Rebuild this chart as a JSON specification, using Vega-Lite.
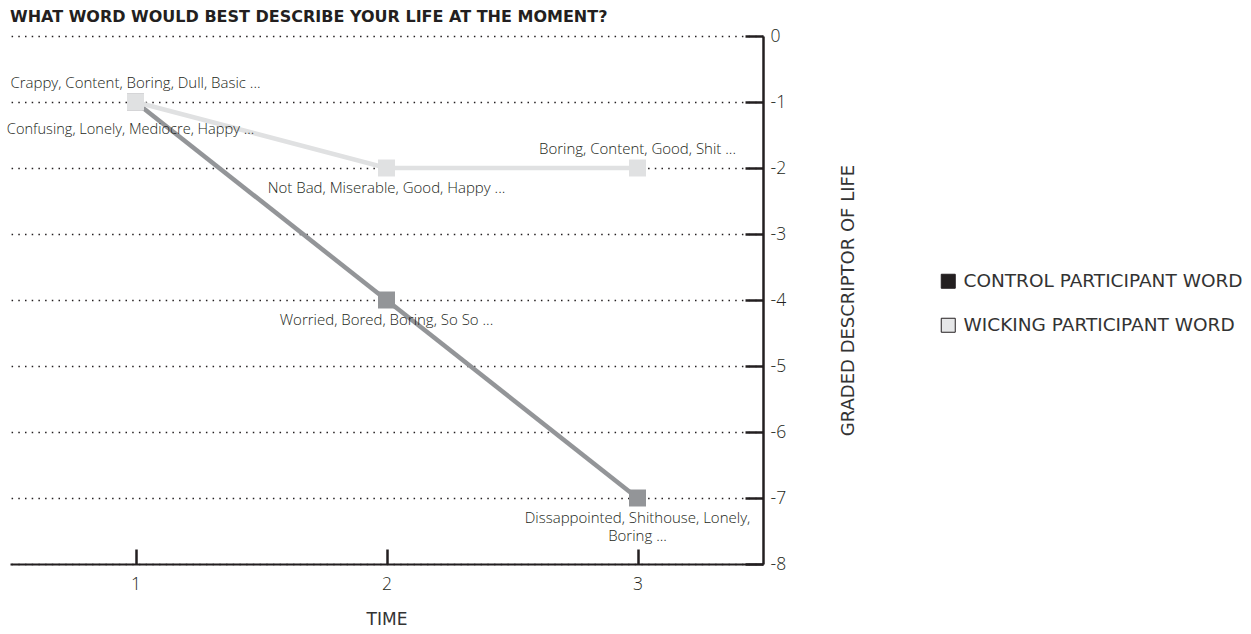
{
  "$schema": "https://vega.github.io/schema/vega-lite/v6.json",
  "autosize": "none",
  "width": 753,
  "height": 528,
  "padding": {"left": 10, "top": 36, "right": 488, "bottom": 70},
  "background": "white",
  "config": {
    "font": "Open Sans",
    "view": {"stroke": null}
  },
  "title": {
    "text": "WHAT WORD WOULD BEST DESCRIBE YOUR LIFE AT THE MOMENT?",
    "anchor": "start",
    "frame": "group",
    "fontSize": 16,
    "fontWeight": "bold",
    "font": "DejaVu Sans",
    "color": "#231f20",
    "offset": 2
  },
  "data": {
    "values": [
      {"time": 1, "value": -1, "series": "CONTROL PARTICIPANT WORD", "words": "Confusing, Lonely, Mediocre, Happy ..."},
      {"time": 2, "value": -4, "series": "CONTROL PARTICIPANT WORD", "words": "Worried, Bored, Boring, So So ..."},
      {"time": 3, "value": -7, "series": "CONTROL PARTICIPANT WORD", "words": ["Dissappointed, Shithouse, Lonely,", "Boring ..."]},
      {"time": 1, "value": -1, "series": "WICKING PARTICIPANT WORD", "words": "Crappy, Content, Boring, Dull, Basic ..."},
      {"time": 2, "value": -2, "series": "WICKING PARTICIPANT WORD", "words": "Not Bad, Miserable, Good, Happy ..."},
      {"time": 3, "value": -2, "series": "WICKING PARTICIPANT WORD", "words": "Boring, Content, Good, Shit ..."}
    ]
  },
  "encoding": {
    "x": {
      "field": "time", "type": "quantitative",
      "scale": {"domain": [0.5, 3.5], "nice": false, "zero": false},
      "axis": {
        "values": [1, 2, 3], "format": "d", "grid": false,
        "title": "TIME", "titleFont": "DejaVu Sans", "titleFontSize": 17, "titleFontWeight": "normal", "titleColor": "#333333", "titlePadding": 19,
        "domainColor": "#231f20", "domainWidth": 2,
        "tickColor": "#231f20", "tickWidth": 2.5, "tickSize": -15,
        "labelFontSize": 17.5, "labelFontWeight": 300, "labelColor": "#231f20", "labelPadding": 26
      }
    },
    "y": {
      "field": "value", "type": "quantitative",
      "scale": {"domain": [-8, 0], "nice": false, "zero": false},
      "axis": {
        "orient": "right",
        "values": [0, -1, -2, -3, -4, -5, -6, -7, -8],
        "labelExpr": "'' + datum.value",
        "grid": true, "gridColor": "#231f20", "gridDash": [1.5, 5.2], "gridWidth": 1.5,
        "domainColor": "#231f20", "domainWidth": 2.5,
        "tickColor": "#231f20", "tickWidth": 2.5, "tickSize": -18,
        "labelFontSize": 17.5, "labelFontWeight": 300, "labelColor": "#231f20", "labelPadding": 25,
        "title": "GRADED DESCRIPTOR OF LIFE", "titleAngle": 270, "titleFont": "DejaVu Sans", "titleFontSize": 18, "titleFontWeight": "normal",
        "titleColor": "#333333", "titlePadding": 72
      }
    }
  },
  "layer": [
    {
      "mark": {"type": "line", "strokeWidth": 4.5},
      "encoding": {
        "detail": {"field": "series", "type": "nominal"},
        "stroke": {
          "condition": {"test": "datum.series === 'CONTROL PARTICIPANT WORD'", "value": "#939598"},
          "value": "#e0e1e2"
        }
      }
    },
    {
      "mark": {"type": "point", "shape": "square", "filled": true, "size": 289, "opacity": 1, "strokeWidth": 0},
      "encoding": {
        "fill": {
          "condition": {"test": "datum.series === 'CONTROL PARTICIPANT WORD'", "value": "#939598"},
          "value": "#e0e1e2"
        },
        "order": {"field": "series", "sort": "ascending"}
      }
    },
    {
      "transform": [{"filter": "false"}],
      "mark": {"type": "point", "shape": "square", "filled": true, "opacity": 1},
      "encoding": {
        "fill": {
          "field": "series", "type": "nominal",
          "scale": {"domain": ["CONTROL PARTICIPANT WORD", "WICKING PARTICIPANT WORD"], "range": ["#231f20", "#e6e7e8"]},
          "legend": {
            "orient": "none", "legendX": 929, "legendY": 236, "title": null,
            "symbolType": "square", "symbolSize": 196, "symbolStrokeColor": "#231f20", "symbolStrokeWidth": 1, "symbolOpacity": 1,
            "labelFont": "DejaVu Sans", "labelFontSize": 18.5, "labelColor": "#333333", "labelOffset": 6, "labelLimit": 400,
            "rowPadding": 25
          }
        }
      }
    },
    {
      "transform": [{"filter": "datum.series === 'WICKING PARTICIPANT WORD' && datum.time !== 2"}],
      "mark": {"type": "text", "fontSize": 15, "fontWeight": 300, "color": "#231f20", "baseline": "middle", "align": "center", "dy": -19},
      "encoding": {"text": {"field": "words"}}
    },
    {
      "transform": [{"filter": "!(datum.series === 'WICKING PARTICIPANT WORD' && datum.time !== 2) && datum.time !== 1"}],
      "mark": {"type": "text", "fontSize": 15, "fontWeight": 300, "color": "#231f20", "baseline": "top", "align": "center", "dy": 13, "lineHeight": 18},
      "encoding": {"text": {"field": "words"}}
    },
    {
      "transform": [{"filter": "datum.series === 'CONTROL PARTICIPANT WORD' && datum.time === 1"}],
      "mark": {"type": "text", "fontSize": 14.6, "fontWeight": 300, "color": "#231f20", "baseline": "middle", "align": "center", "dy": 28, "dx": -5},
      "encoding": {"text": {"field": "words"}}
    }
  ]
}
